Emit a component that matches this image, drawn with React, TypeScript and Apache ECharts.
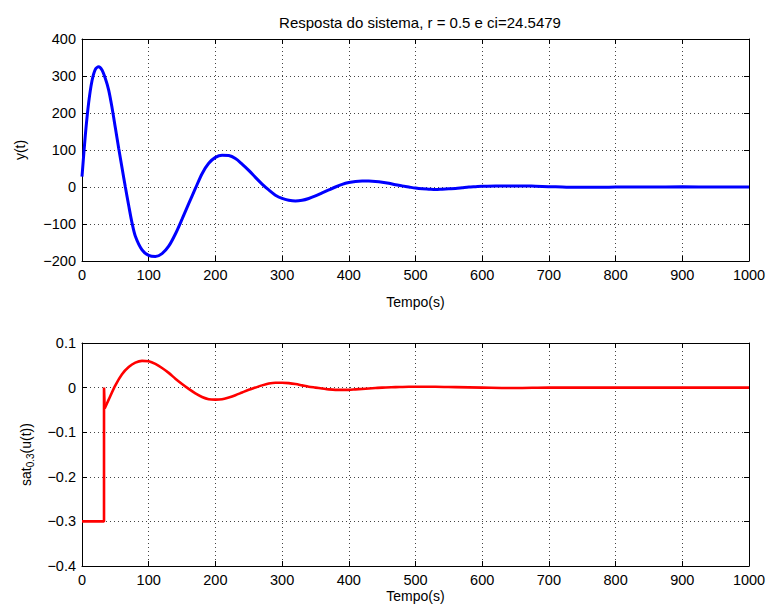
import React, { useEffect, useRef } from "react";
import * as echarts from "echarts";

const titleText = "Resposta do sistema, r = 0.5 e ci=24.5479";
const xTicks = { min: 0, max: 1000, interval: 100 };

// Top plot: y(t)
const tTop = [0, 5, 10, 15, 20, 25, 30, 35, 40, 45, 50, 55, 60, 65, 70, 75, 80, 90, 100, 110, 120, 130, 140, 150, 160, 170, 180, 190, 200, 210, 220, 230, 240, 250, 260, 270, 280, 290, 300, 310, 320, 330, 340, 350, 360, 370, 380, 390, 400, 410, 420, 430, 440, 450, 460, 470, 480, 490, 500, 510, 520, 530, 540, 550, 560, 570, 580, 590, 600, 620, 640, 660, 680, 700, 720, 740, 760, 780, 800, 850, 900, 950, 1000];
const yTop = [28, 140, 228, 287, 318, 325, 316, 293, 262, 215, 160, 105, 52, 0, -50, -97, -133, -170, -185, -188, -180, -160, -127, -87, -45, -4, 36, 64, 80, 86, 85, 77, 62, 45, 26, 8, -8, -22, -31, -36, -38, -36, -31, -24, -16, -8, 0, 7, 12, 15, 16, 16, 15, 13, 10, 6, 3, 0, -3, -5, -6, -7, -6, -5, -4, -2, 0, 1, 2, 3, 3, 3, 2, 1, 0, -1, -1, -1, 0, 0, 0.5, 0, 0];

// Bottom plot: saturated control, step part
const tStep = [0, 33, 33, 34];
const uStep = [-0.3, -0.3, 0, -0.047];
// Bottom plot: smooth part
const tU = [34, 40, 50, 60, 70, 80, 90, 100, 110, 120, 130, 140, 150, 160, 170, 180, 190, 200, 210, 220, 230, 240, 250, 260, 270, 280, 290, 300, 310, 320, 330, 340, 350, 360, 370, 380, 390, 400, 410, 420, 430, 440, 450, 470, 490, 510, 530, 560, 600, 650, 700, 1000];
const uVals = [-0.047, -0.027, 0.005, 0.03, 0.046, 0.056, 0.06, 0.059, 0.053, 0.044, 0.033, 0.02, 0.008, -0.003, -0.013, -0.021, -0.026, -0.027, -0.026, -0.022, -0.017, -0.011, -0.005, 0, 0.005, 0.009, 0.011, 0.011, 0.01, 0.008, 0.005, 0.002, 0, -0.002, -0.004, -0.005, -0.005, -0.005, -0.004, -0.003, -0.002, -0.001, 0, 0.001, 0.002, 0.002, 0.002, 0.001, 0, -0.001, 0, 0];

const FONT = "'Liberation Sans', Arial, Helvetica, sans-serif";

const zip = (a: number[], b: number[]) => a.map((v, i) => [v, b[i]]);
const minus = (s: string) => s.replace("-", "\u2212");

export default function App() {
  const ref = useRef<HTMLDivElement>(null);
  useEffect(() => {
    if (!ref.current) return;
    const chart = echarts.init(ref.current, null, { renderer: "svg" });
    const grids = [
      { left: 82, right: 21, top: 39, height: 222 },
      { left: 82, right: 21, top: 343, height: 223 },
    ];
    const lbl = { color: "#000", fontFamily: FONT, fontSize: 14.5 };
    const nameStyle = { color: "#000", fontFamily: FONT, fontSize: 14 };
    const split = { show: true, lineStyle: { color: "#444", type: [1, 3] as any, width: 1 } };
    const axLine = { show: true, onZero: false, lineStyle: { color: "#000", width: 1 } };
    const tick = { show: true, inside: true, length: 5, lineStyle: { color: "#000" } };
    const mkX = (gi: number, nameGap: number) => [
      {
        type: "value", gridIndex: gi, ...xTicks, position: "bottom",
        axisLine: axLine, axisTick: tick, splitLine: split,
        axisLabel: { ...lbl, margin: 6, formatter: (v: number) => String(v) },
        name: "Tempo(s)", nameLocation: "middle", nameGap,
        nameTextStyle: { ...nameStyle },
      },
      {
        type: "value", gridIndex: gi, ...xTicks, position: "top",
        axisLine: axLine, axisTick: tick, splitLine: { show: false },
        axisLabel: { show: false },
      },
    ];
    const mkY = (gi: number, min: number, max: number, interval: number, fmt: (v: number) => string, name: string, nameGap: number, rich?: any) => [
      {
        type: "value", gridIndex: gi, min, max, interval, position: "left",
        axisLine: axLine, axisTick: tick, splitLine: split,
        axisLabel: { ...lbl, margin: 6, formatter: fmt },
        name, nameLocation: "middle", nameGap,
        nameTextStyle: { ...nameStyle, rich },
      },
      {
        type: "value", gridIndex: gi, min, max, interval, position: "right",
        axisLine: axLine, axisTick: tick, splitLine: { show: false },
        axisLabel: { show: false },
      },
    ];
    const subRich = {
      a: { fontFamily: FONT, fontSize: 14, color: "#000", lineHeight: 17, verticalAlign: "top" },
      s: { fontFamily: FONT, fontSize: 10, color: "#000", lineHeight: 17, verticalAlign: "top", padding: [6, 0, 0, 0] },
    };
    chart.setOption({
      animation: false,
      backgroundColor: "#fff",
      title: {
        text: titleText, left: 415, top: 10, textAlign: "center",
        textStyle: { color: "#000", fontFamily: FONT, fontSize: 15, fontWeight: "normal" },
      },
      grid: grids,
      xAxis: [...mkX(0, 34), ...mkX(1, 23)],
      yAxis: [
        ...mkY(0, -200, 400, 100, (v) => minus(String(v)), "y(t)", 55),
        ...mkY(1, -0.4, 0.1, 0.1, (v) => (Math.abs(v) < 1e-9 ? "0" : minus(v.toFixed(1))), "{a|sat}{s|0.3}{a|(u(t))}", 46, subRich),
      ],
      series: [
        {
          type: "line", xAxisIndex: 0, yAxisIndex: 0, data: zip(tTop, yTop),
          smooth: 0.3, showSymbol: false, symbol: "none",
          lineStyle: { color: "#0000ff", width: 3 }, itemStyle: { color: "#0000ff" },
        },
        {
          type: "line", xAxisIndex: 2, yAxisIndex: 2, data: zip(tStep, uStep),
          showSymbol: false, symbol: "none",
          lineStyle: { color: "#ff0000", width: 2.6 }, itemStyle: { color: "#ff0000" },
        },
        {
          type: "line", xAxisIndex: 2, yAxisIndex: 2, data: zip(tU, uVals),
          smooth: 0.3, showSymbol: false, symbol: "none",
          lineStyle: { color: "#ff0000", width: 2.6 }, itemStyle: { color: "#ff0000" },
        },
      ],
    });
    return () => chart.dispose();
  }, []);
  return <div ref={ref} style={{ position: "fixed", left: 0, top: 0, width: 770, height: 610 }} />;
}
